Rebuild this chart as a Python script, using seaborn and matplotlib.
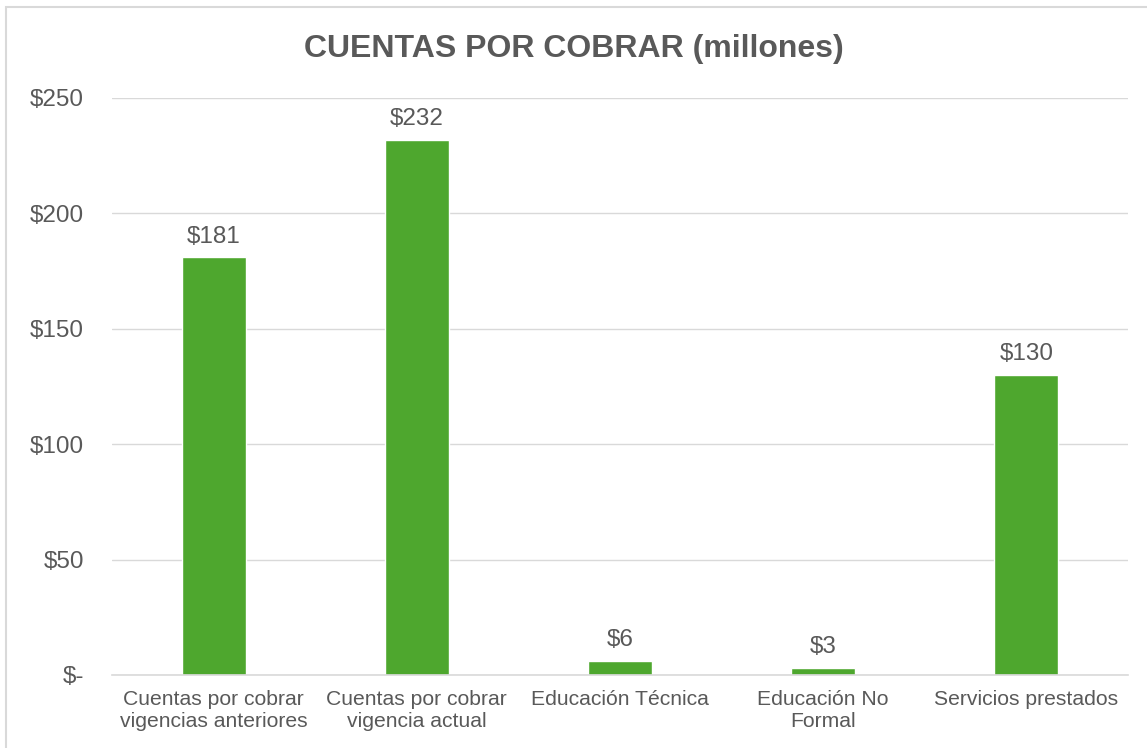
import matplotlib
matplotlib.use("Agg")
from matplotlib import pyplot as plt
from matplotlib.patches import Rectangle
import pandas as pd
import seaborn as sns

categorias = ["Cuentas por cobrar\nvigencias anteriores",
              "Cuentas por cobrar\nvigencia actual",
              "Educación Técnica",
              "Educación No\nFormal",
              "Servicios prestados"]
valores = [181, 232, 6, 3, 130]
ticks_y = [0, 50, 100, 150, 200, 250]

df = pd.DataFrame({"Categoria": categorias, "Valor": valores})

sns.set_style("white")
plt.rcParams["font.family"] = ["Liberation Sans", "DejaVu Sans"]

gris = "#595959"
verde = "#4EA72E"

fig = plt.figure(figsize=(11.47, 7.48), dpi=100)
ax = fig.add_axes([0.0976, 0.0976, 0.8858, 0.7714])

sns.barplot(x="Categoria", y="Valor", data=df, color=verde, width=0.315,
            saturation=1, ax=ax)

ax.set_ylim(0, 250)
ax.set_xlim(-0.5, len(categorias) - 0.5)
ax.set_yticks(ticks_y)
ax.set_yticklabels(["$-" if t == 0 else f"${t}" for t in ticks_y])
ax.tick_params(axis="y", length=0, pad=20, labelsize=17.5, labelcolor=gris)
ax.tick_params(axis="x", length=0, pad=11, labelsize=15.2, labelcolor=gris)
for lbl in ax.get_xticklabels():
    lbl.set_linespacing(1.2)
ax.set_xlabel("")
ax.set_ylabel("")
ax.yaxis.grid(True, color="#D9D9D9", linewidth=1)
ax.set_axisbelow(True)
for s in ["top", "right", "left"]:
    ax.spines[s].set_visible(False)
ax.spines["bottom"].set_color("#D9D9D9")
ax.spines["bottom"].set_linewidth(1.2)

for i, v in enumerate(valores):
    ax.annotate(f"${v}", (i, v), xytext=(0, 7), textcoords="offset points",
                ha="center", va="bottom", fontsize=17.5, color=gris)

fig.text(0.5, 0.935, "CUENTAS POR COBRAR (millones)", ha="center", va="center",
         fontsize=23, fontweight="bold", color=gris)

fig.patches.append(Rectangle((6 / 1147, -0.1), 1.2, 1 - 7 / 748 + 0.1,
                             transform=fig.transFigure, fill=False,
                             edgecolor="#D9D9D9", linewidth=1.5))

fig.savefig("out.png", dpi=100)
